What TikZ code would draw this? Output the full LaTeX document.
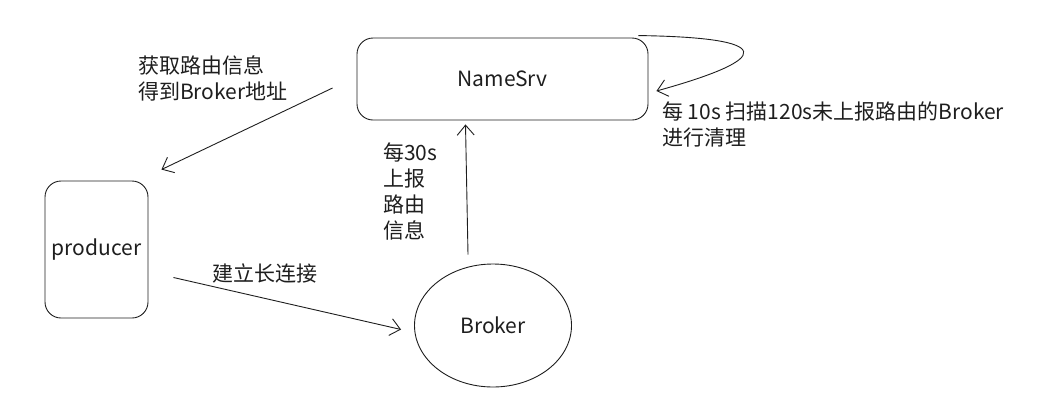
\documentclass[tikz,border=0pt]{standalone}
\usepackage{fontspec}
\setmainfont{Noto Sans CJK SC}
\usetikzlibrary{arrows.meta}
\usetikzlibrary{positioning}
\usetikzlibrary{shapes.geometric}
\definecolor{ink}{HTML}{1E1E1E}
\begin{document}
\begin{tikzpicture}[x=1pt,y=-1pt,
    every node/.style={text=ink, font=\fontsize{21}{26}\selectfont},
    box/.style={draw=ink, line width=0.9pt, rounded corners=16pt},
    lbl/.style={inner sep=0pt, align=left, anchor=west},
    arr/.style={draw=ink, line width=0.9pt, -{Straight Barb[length=10pt,width=17pt]}}]
            \useasboundingbox (0,0) rectangle (1054,405);
            \node[box, minimum width=291pt, minimum height=82pt] (ns) at (502.5,79) {NameSrv};
            \node[box, minimum width=103pt, minimum height=137pt] (prod) at (96.5,249.5) {producer};
            \node[ellipse, draw=ink, line width=0.9pt, minimum width=157pt, minimum height=123pt] (brk) at (493,325.5) {Broker};
            \node[lbl] (l_fetch) at (138,78.5) {获取路由信息\\得到Broker地址};
            \node[lbl] (l_report) at (383,191) {每30s\\上报\\路由\\信息};
            \node[lbl] (l_scan) at (662,124) {每 10s 扫描120s未上报路由的Broker\\进行清理};
            \node[inner sep=0pt] (l_conn) at (265,273) {建立长连接};
            \path[arr]
            ([xshift=-24pt,yshift=-9pt]ns.west) -- ([xshift=13pt,yshift=11pt]prod.north east);
            \path[arr]
            ([xshift=25pt,yshift=-28pt]prod.east) -- ([xshift=-13pt,yshift=-4pt]brk.west);
            \path[arr]
            ([xshift=-25pt,yshift=9pt]brk.north) -- ([xshift=-37pt,yshift=-4pt]ns.south);
            \path[arr]
            ([xshift=-10pt,yshift=2pt]ns.north east) .. controls +(137,2) and +(119,-33) .. ([xshift=8pt,yshift=-12pt]ns.east);
        \end{tikzpicture}
\end{document}
